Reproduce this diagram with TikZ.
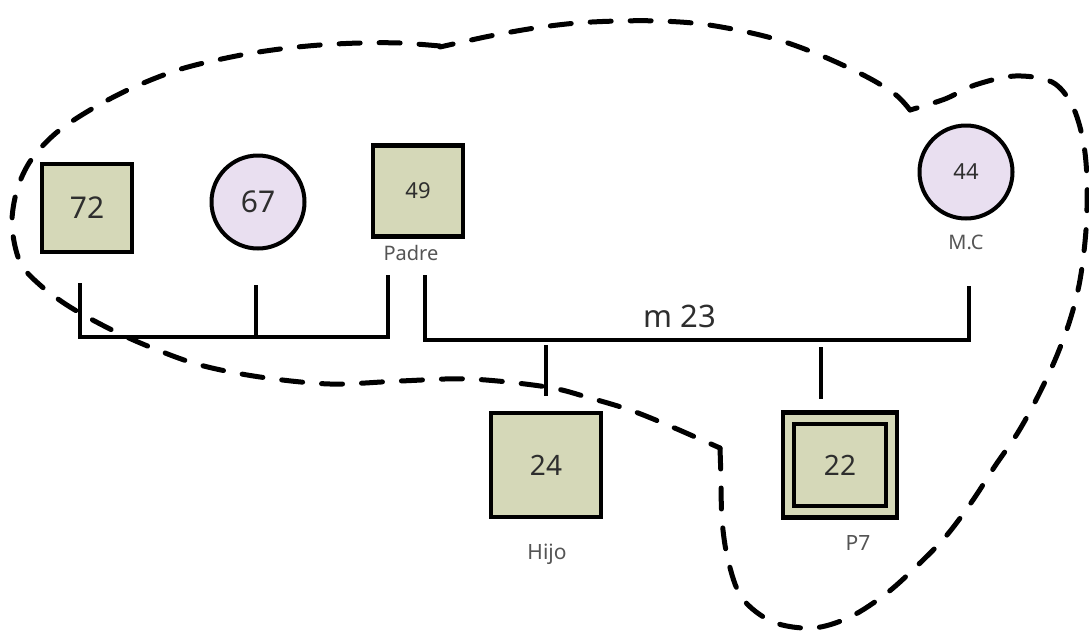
\documentclass[tikz,border=0pt]{standalone}
\usepackage{fontspec}
\setmainfont{Noto Sans}
\definecolor{sqfill}{HTML}{D5D8B8}
\definecolor{cfill}{HTML}{E9DFF0}
\definecolor{txt}{HTML}{2E2E2E}
\definecolor{lbl}{HTML}{555555}
\begin{document}
\begin{tikzpicture}[x=1pt,y=-1pt,
  male/.style={draw=black,line width=4.5pt,fill=sqfill,inner sep=0pt,text=txt},
  female/.style={circle,draw=black,line width=4pt,fill=cfill,inner sep=0pt,text=txt},
  lab/.style={text=lbl,inner sep=0pt,font=\fontsize{20}{22}\selectfont},
  link/.style={line width=3.5pt,draw=black},
  hull/.style={line width=5pt,line cap=round,dash pattern=on 21pt off 19pt}]
\useasboundingbox[fill=white] (0,0) rectangle (1089,635);

% people
\node[male,minimum width=90pt,minimum height=88pt,font=\fontsize{30}{32}\selectfont] (p72) at (87,208) {72};
\node[female,minimum size=93pt,font=\fontsize{30}{32}\selectfont] (p67) at (258,202) {67};
\node[male,minimum width=90pt,minimum height=91pt,font=\fontsize{22}{24}\selectfont] (p49) at (418,191) {49};
\node[female,minimum size=93pt,font=\fontsize{22}{24}\selectfont] (p44) at (966,172) {44};
\node[male,minimum width=110pt,minimum height=104pt,font=\fontsize{28}{30}\selectfont] (p24) at (546,465) {24};
\node[male,minimum width=114pt,minimum height=105pt] (p22o) at (840,465) {};
\node[male,minimum width=92pt,minimum height=82pt,font=\fontsize{28}{30}\selectfont] (p22) at (840,465) {22};

% labels
\node[lab] (lpadre) at (411,253) {Padre};
\node[lab] (lmc) at (966,242) {M.C};
\node[lab,font=\fontsize{21}{23}\selectfont] (lhijo) at (547,554) {Hijo};
\node[lab,font=\fontsize{21}{23}\selectfont] (lp7) at (858,543) {P7};
\node[text=txt,inner sep=0pt,font=\fontsize{31}{33}\selectfont] (m23) at (680,316) {m 23};

% connector points
\coordinate (a72) at (80,283);
\coordinate (a67) at (256,285);
\coordinate (a49) at (388,275);
\coordinate (b72) at (80,337);
\coordinate (b67) at (256,337);
\coordinate (b49) at (388,337);
\coordinate (c49) at (425,275);
\coordinate (c44) at (969,286);
\coordinate (d49) at (425,340);
\coordinate (d44) at (969,340);
\coordinate (e24) at (546,345);
\coordinate (f24) at (546,396);
\coordinate (e22) at (821,347);
\coordinate (f22) at (821,399);

\draw[link] (a72) -- (b72) -- (b49) -- (a49);
\draw[link] (a67) -- (b67);
\draw[link] (c49) -- (d49) -- (d44) -- (c44);
\draw[link] (e24) -- (f24);
\draw[link] (e22) -- (f22);

% dashed enclosure
\draw[hull] plot[smooth,tension=0.55] coordinates {(910,110) (896,95) (869,78) (827,58) (785,42) (747,32) (702,24) (660,21) (618,21) (577,23) (535,28) (490,36) (440,47)};
\draw[hull] plot[smooth,tension=0.55] coordinates {(440,46) (400,43) (360,43) (320,45) (280,49) (236,56) (181,69) (132,88) (90,110) (56,133) (31,160) (17,190) (12,225) (20,262) (40,285) (70,307) (110,329) (150,347) (200,365) (260,377) (330,384) (400,381) (470,379) (547,387) (590,398) (630,410) (670,426) (720,448)};
\draw[hull] plot[smooth,tension=0.55] coordinates {(720,448) (721,480) (722,520) (728,560) (742,598) (773,622) (813,628) (850,617) (887,593) (920,563) (947,535) (973,500) (995,466) (1017,434) (1036,400) (1055,360) (1070,320) (1080,280) (1086,230) (1087,180) (1083,140) (1072,105) (1052,82) (1015,76) (975,85) (945,99) (910,110)};
\end{tikzpicture}
\end{document}
